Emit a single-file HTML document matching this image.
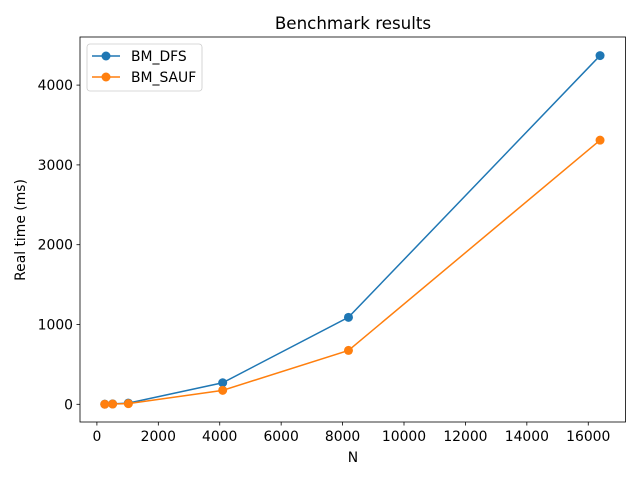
<!DOCTYPE html>
<html><head><meta charset="utf-8"><style>
body{margin:0;background:#fff}
svg{font-family:"DejaVu Sans","Liberation Sans",sans-serif}
</style></head><body>
<svg id="c" width="640" height="480">
<rect width="640" height="480" fill="#fff"/>
<text x="353" y="29" text-anchor="middle" font-size="16.7px">Benchmark results</text>
<text x="353" y="462" text-anchor="middle" font-size="13.9px">N</text>
<text transform="translate(25,230) rotate(-90)" text-anchor="middle" font-size="13.9px">Real time (ms)</text>
<g id="axes"></g>
<g id="marks"></g>
<rect x="80" y="37" width="545.5" height="385" fill="none" stroke="#000" stroke-width="0.8"/>
<g>
<rect x="87" y="44" width="115" height="47" rx="3" fill="#fff" stroke="#ccc" stroke-width="0.8"/>
<g><line x1="92" y1="56" x2="120" y2="56" stroke="#1f77b4" stroke-width="1.5"/><circle cx="106" cy="56" r="4.5" fill="#1f77b4"/><text x="131" y="61" font-size="13.9px">BM_DFS</text></g>
<g><line x1="92" y1="77" x2="120" y2="77" stroke="#ff7f0e" stroke-width="1.5"/><circle cx="106" cy="77" r="4.5" fill="#ff7f0e"/><text x="131" y="82" font-size="13.9px">BM_SAUF</text></g>
</g>
</svg>
<script>
const categories=[256,512,1024,4096,8192,16384];
const dfsValues=[2,5,15,270,1090,4370];
const saufValues=[1,3,8,175,675,3310];
const xTicks=[0,2000,4000,6000,8000,10000,12000,14000,16000];
const yTicks=[0,1000,2000,3000,4000];
const NS="http://www.w3.org/2000/svg";
function sx(v){return 96.9+v*0.03071;}
function sy(v){return 404.3-v*0.0798;}
const axes=document.getElementById('axes'),marks=document.getElementById('marks');
function mk(t,a,p){const e=document.createElementNS(NS,t);for(const k in a)e.setAttribute(k,a[k]);p.appendChild(e);return e;}
xTicks.forEach(v=>{const g=mk('g',{},axes);


mk('line',{x1:sx(v),x2:sx(v),y1:422,y2:425.5,stroke:'#000','stroke-width':0.8},g);
const t=mk('text',{x:sx(v),y:441,'text-anchor':'middle','font-size':'13.9px'},g);t.textContent=v;});
yTicks.forEach(v=>{const g=mk('g',{},axes);


mk('line',{x1:76.5,x2:80,y1:sy(v),y2:sy(v),stroke:'#000','stroke-width':0.8},g);
const t=mk('text',{x:73,y:sy(v)+5,'text-anchor':'end','font-size':'13.9px'},g);t.textContent=v;});
[[dfsValues,'#1f77b4','dfs'],[saufValues,'#ff7f0e','sauf']].forEach(([vals,col,n])=>{
const g=mk('g',{},marks);


const pl=mk('polyline',{points:categories.map((c,i)=>sx(c)+','+sy(vals[i])).join(' '),fill:'none',stroke:col,'stroke-width':1.5},g);


categories.forEach((c,i)=>{const p=mk('circle',{cx:sx(c),cy:sy(vals[i]),r:4.5,fill:col},g);

});
});
</script>
</body></html>
